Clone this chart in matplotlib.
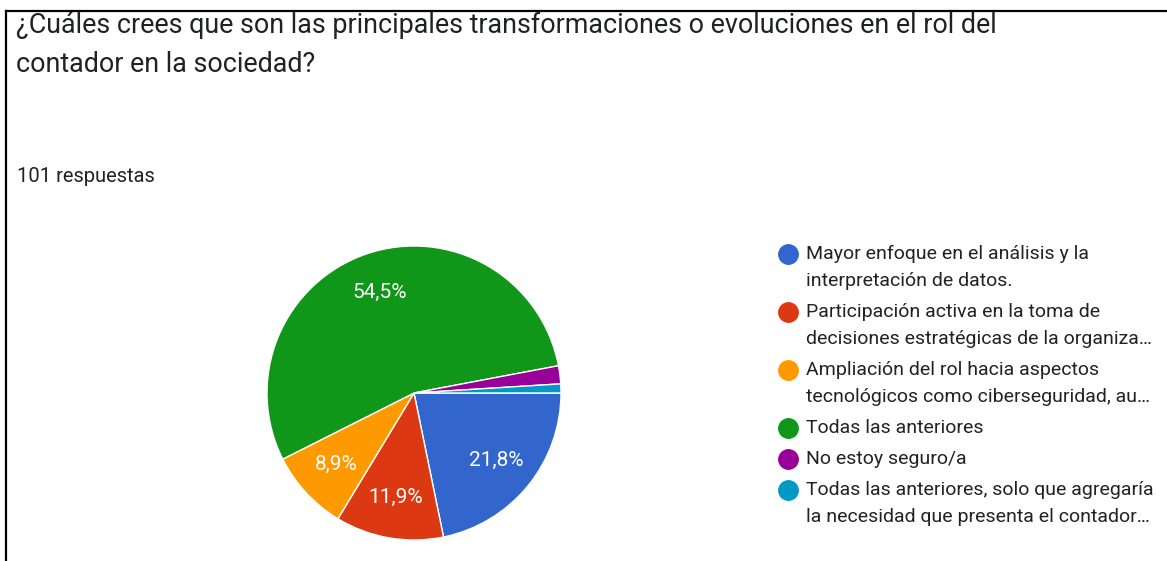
import matplotlib.pyplot as plt
from matplotlib.lines import Line2D

plt.rcParams['font.family'] = ['Roboto', 'DejaVu Sans']

# datos
titulo = ["¿Cuáles crees que son las principales transformaciones o evoluciones en el rol del",
          "contador en la sociedad?"]
subtitulo = "101 respuestas"
etiquetas = ["Mayor enfoque en el análisis y la\ninterpretación de datos.",
             "Participación activa en la toma de\ndecisiones estratégicas de la organiza…",
             "Ampliación del rol hacia aspectos\ntecnológicos como ciberseguridad, au…",
             "Todas las anteriores",
             "No estoy seguro/a",
             "Todas las anteriores, solo que agregaría\nla necesidad que presenta el contador…"]
respuestas = [22, 12, 9, 55, 2, 1]
colores = ["#3366cc", "#dc3912", "#ff9900", "#109618", "#990099", "#0099c6"]

W, H = 1167, 561
fig = plt.figure(figsize=(W / 100, H / 100), dpi=100)

def fx(px):
    return px / W

def fy(py):
    return 1 - py / H

# marco
fig.add_artist(Line2D([fx(5.5), fx(5.5)], [fy(11), 0], color='black', lw=1.6))
fig.add_artist(Line2D([fx(5.5), 1], [fy(11), fy(11)], color='black', lw=1.6))

# titulo
fig.text(fx(16), fy(33), titulo[0], fontsize=19.4, color='#202124', va='baseline')
fig.text(fx(16), fy(72), titulo[1], fontsize=19.4, color='#202124', va='baseline')
fig.text(fx(17), fy(182), subtitulo, fontsize=14.5, color='#202124', va='baseline')

# pastel
cx, cy, r = 414, 393, 147
ax = fig.add_axes([fx(cx - r), fy(cy + r), 2 * r / W, 2 * r / H])

def pct(p):
    return f"{p:.1f}".replace('.', ',') + '%' if p > 5 else ''

wedges, textos, autot = ax.pie(respuestas, colors=colores, startangle=0, counterclock=False,
                               autopct=pct, pctdistance=0.72,
                               wedgeprops=dict(edgecolor='white', linewidth=1))
for t in autot:
    t.set_color('white')
    t.set_fontsize(15)
ax.set_xlim(-1, 1)
ax.set_ylim(-1, 1)
ax.set_aspect('auto')
ax.axis('off')

# leyenda
y = 254
for et, col in zip(etiquetas, colores):
    fig.add_artist(Line2D([fx(788)], [fy(y)], marker='o', markersize=14, color=col,
                          linestyle='none'))
    lineas = et.split('\n')
    for i, ln in enumerate(lineas):
        fig.text(fx(806), fy(y + 27 * i), ln, fontsize=14, color='#222222', va='center')
    y += 27 * (len(lineas) - 1) + 31

fig.savefig('out.png', dpi=100)
